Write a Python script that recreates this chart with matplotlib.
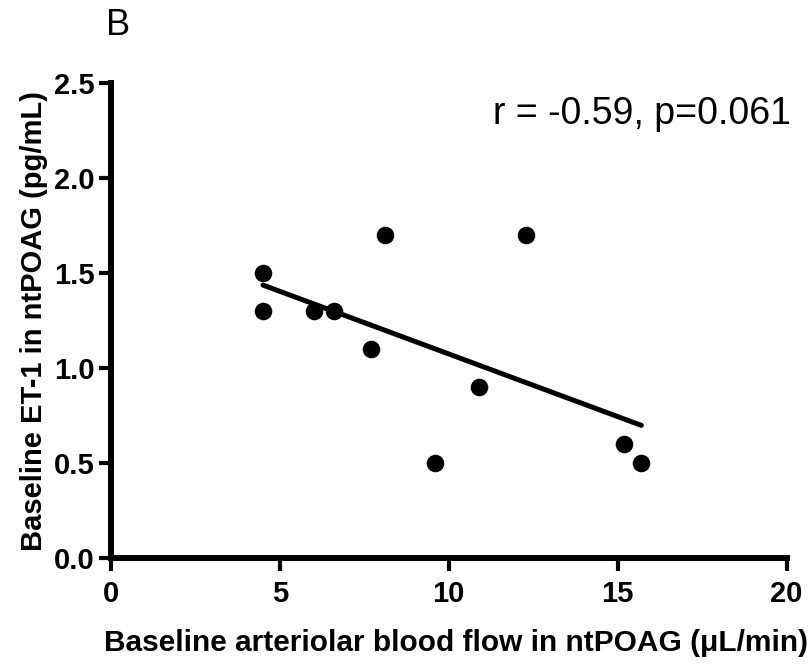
import numpy as np
import matplotlib
matplotlib.use("Agg")
import matplotlib.pyplot as plt

plt.rcParams['font.family'] = ['Liberation Sans', 'DejaVu Sans']

# data
flow = [4.5, 4.5, 6.0, 6.6, 7.7, 8.1, 12.3, 10.9, 9.6, 15.2, 15.7]
et1 = [1.5, 1.3, 1.3, 1.3, 1.1, 1.7, 1.7, 0.9, 0.5, 0.6, 0.5]

xticks = [0, 5, 10, 15, 20]
yticks = [0.0, 0.5, 1.0, 1.5, 2.0, 2.5]

fig = plt.figure(figsize=(8.12, 6.65), dpi=100)
ax = fig.add_axes([0.1367, 0.161, 0.832, 0.714])

ax.scatter(flow, et1, s=160, color='black', zorder=3, linewidths=0)

# linear regression line over data range
slope, icpt = np.polyfit(flow, et1, 1)
xs = np.array([min(flow), max(flow)])
ax.plot(xs, slope * xs + icpt, color='black', lw=3.6, solid_capstyle='round')

ax.set_xlim(0, 20)
ax.set_ylim(0, 2.5)
ax.set_xticks(xticks)
ax.set_yticks(yticks)
ax.set_xticklabels([str(t) for t in xticks], fontsize=21, fontweight='bold')
ax.set_yticklabels(['%.1f' % t for t in yticks], fontsize=21, fontweight='bold')

for s in ['top', 'right']:
    ax.spines[s].set_visible(False)
for s in ['left', 'bottom']:
    ax.spines[s].set_linewidth(4.3)
ax.tick_params(width=3, length=9, direction='out')
ax.tick_params(axis='x', pad=7)
ax.tick_params(axis='y', pad=3)

ax.set_xlabel('Baseline arteriolar blood flow in ntPOAG (\u03bcL/min)',
              fontsize=21.5, fontweight='bold', labelpad=15, x=0.51)
ax.set_ylabel('Baseline ET-1 in ntPOAG (pg/mL)', fontsize=21,
              fontweight='bold', labelpad=4)

ax.text(1.007, 0.935, 'r = -0.59, p=0.061', transform=ax.transAxes,
        ha='right', va='center', fontsize=27)
fig.text(0.131, 0.962, 'B', fontsize=26, ha='left', va='center')

fig.savefig('out.png', dpi=100)
